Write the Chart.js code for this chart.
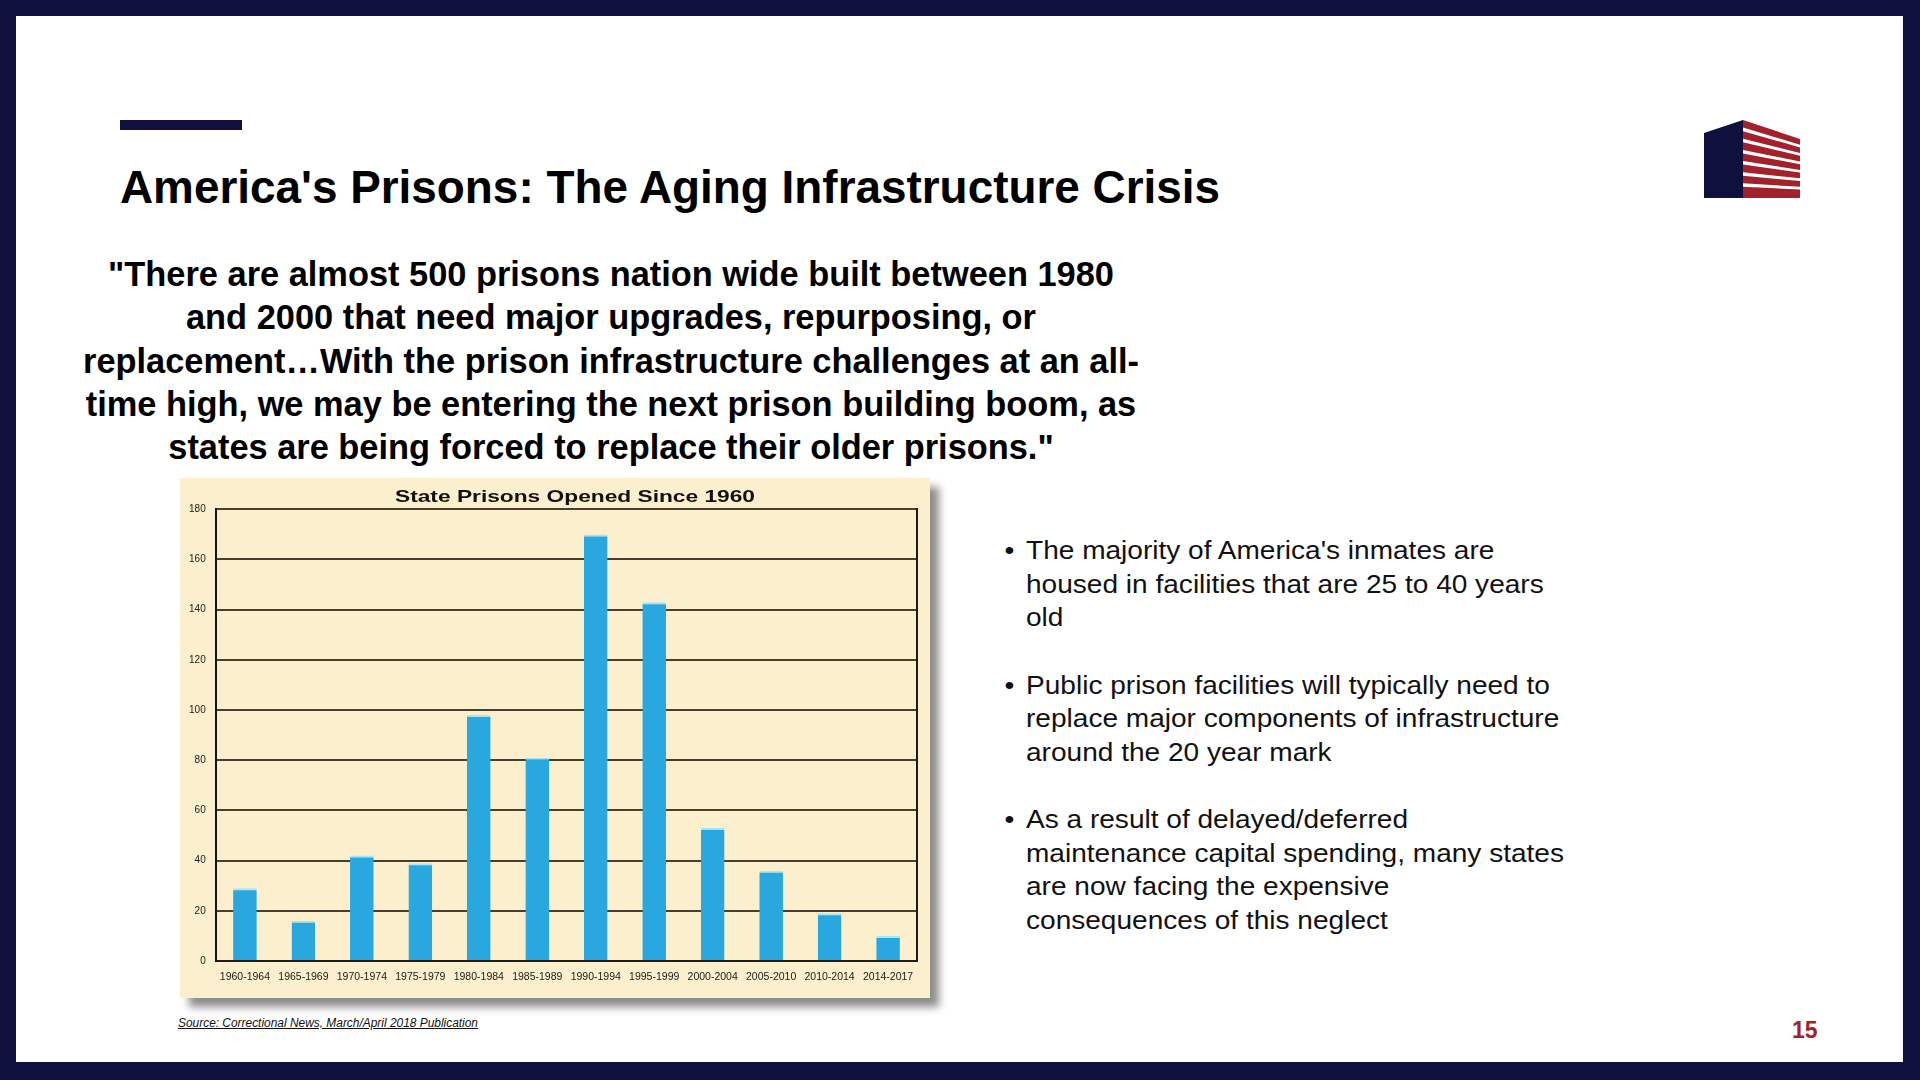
<!DOCTYPE html>
<html lang="en-US">
<head>
  <meta charset="utf-8">
  <title>America's Prisons: The Aging Infrastructure Crisis</title>
  <script src="https://cdn.jsdelivr.net/npm/chart.js@4.4.1/dist/chart.umd.min.js"></script>
  <style>
  html, body {
    margin: 0;
    width: 1920px;
    height: 1080px;
    overflow: hidden;
    background: #10103f;
    font-family: "Liberation Sans", Arial, sans-serif;
  }
  .abs { position: absolute; }
  #slide { left: 16px; top: 16px; right: 17px; bottom: 18px; background: #fff; }
  #accent { left: 120px; top: 120px; width: 122px; height: 10px; background: #10103f; }
  #title {
    left: 120px; top: 164px; font-size: 46px; line-height: 46px; font-weight: bold;
    color: #000; white-space: nowrap; transform-origin: 0 0;
  }
  #quote {
    left: 0; top: 252px; width: 1222px; text-align: center; font-size: 35px;
    line-height: 43.3px; font-weight: bold; color: #000; transform-origin: 611px 0;
  }
  #quote div { white-space: nowrap; }
  #bullets {
    left: 1026px; top: 534px; width: 700px; font-size: 26px; line-height: 33.5px;
    color: #111; transform-origin: 0 0;
  }
  #bullets p { margin: 0 0 34px 0; position: relative; white-space: nowrap; }
  #bullets p::before { content: "\2022"; position: absolute; left: -20px; }
  #panel {
    left: 180px; top: 478px; width: 750px; height: 520px; background: #fbefcd;
    box-shadow: 9px 9px 8px rgba(0, 0, 0, 0.45);
  }
  #source {
    left: 178px; top: 1016px; font-size: 12px; font-style: italic;
    text-decoration: underline; color: #111; white-space: nowrap;
  }
  #page {
    left: 1792px; top: 1017px; font-size: 23px; font-weight: bold; color: #a3212a;
  }
  </style>
</head>

<body>
  <div id="slide" class="abs"></div>
  <div id="accent" class="abs"></div>
  <svg class="abs" style="left:1704px;top:120px" width="96" height="78" viewBox="0 0 96 78">
    <polygon points="0,13 39,0 39,78 0,78" fill="#10103f"/>
    <g id="stripes" fill="#a3212a"></g>
  </svg>
  <div id="title" class="abs"><span>America's Prisons: The Aging Infrastructure Crisis</span></div>
  <div id="quote" class="abs">
    <div>"There are almost 500 prisons nation wide built between 1980</div>
    <div>and 2000 that need major upgrades, repurposing, or</div>
    <div><span id="qwide">replacement…With the prison infrastructure challenges at an all-</span></div>
    <div>time high, we may be entering the next prison building boom, as</div>
    <div>states are being forced to replace their older prisons."</div>
  </div>
  <div id="bullets" class="abs">
    <p>The majority of America's inmates are<br>housed in facilities that are 25 to 40 years<br>old</p>
    <p>Public prison facilities will typically need to<br>replace major components of infrastructure<br>around the 20 year mark</p>
    <p>As a result of delayed/deferred<br><span id="bwide">maintenance capital spending, many states</span><br>are now facing the expensive<br>consequences of this neglect</p>
  </div>
  <div id="panel" class="abs">
    <canvas id="chart" width="750" height="520"></canvas>
  </div>
  <div id="source" class="abs"><span id="srcText">Source: Correctional News, March/April 2018 Publication</span></div>
  <div id="page" class="abs">15</div>

  <script>
    var periods = ['1960-1964', '1965-1969', '1970-1974', '1975-1979', '1980-1984', '1985-1989',
      '1990-1994', '1995-1999', '2000-2004', '2005-2010', '2010-2014', '2014-2017'];
    var prisonsOpened = [29, 16, 42, 39, 98, 81, 170, 143, 53, 36, 19, 10];
    var yMin = 0;
    var yMax = 180;
    var yStep = 20;
    var chartTitle = 'State Prisons Opened Since 1960';

    // logo stripes
    var g = document.getElementById('stripes');
    for (var i = 0; i < 7; i++) {
      var l0 = i * 11.14, l1 = i === 6 ? 78 : l0 + 7.6;
      var r0 = 19 + i * 8.4, r1 = i === 6 ? 78 : r0 + 5.7;
      var p = document.createElementNS('http://www.w3.org/2000/svg', 'polygon');
      p.setAttribute('points', '39,' + l0 + ' 96,' + r0 + ' 96,' + r1 + ' 39,' + l1);
      g.appendChild(p);
    }

    // squeeze slide text to the widths in the original deck
    function squeeze(box, ref, target) {
      var w = ref.getBoundingClientRect().width;
      box.style.transform = 'scaleX(' + (target / w) + ')';
    }
    squeeze(document.getElementById('title'), document.querySelector('#title span'), 1100);
    squeeze(document.getElementById('quote'), document.getElementById('qwide'), 1056);
    squeeze(document.getElementById('bullets'), document.getElementById('bwide'), 538);
    document.getElementById('source').style.transformOrigin = '0 0';
    squeeze(document.getElementById('source'), document.getElementById('srcText'), 300);

    var panelTitle = {
      id: 'panelTitle',
      afterDraw: function (chart) {
        var ctx = chart.ctx;
        ctx.save();
        ctx.font = 'bold 17px "Liberation Sans", Arial, sans-serif';
        var w = ctx.measureText(chartTitle).width;
        ctx.translate(395, 19);
        ctx.scale(360 / w, 1);
        ctx.fillStyle = '#111';
        ctx.textAlign = 'center';
        ctx.textBaseline = 'middle';
        ctx.fillText(chartTitle, 0, 0);
        ctx.restore();
      }
    };

    var config = {
      type: 'bar',
      data: {
        labels: periods,
        datasets: [{
          data: prisonsOpened,
          backgroundColor: '#29a8e0',
          borderColor: '#a8e4f2',
          borderWidth: { top: 2, left: 0, right: 0, bottom: 0 },
          borderSkipped: false,
          barPercentage: 0.405,
          categoryPercentage: 1
        }]
      },
      options: {
        responsive: false,
        animation: false,
        layout: {
          padding: { top: 31.3, left: 0, right: 0, bottom: 0 }
        },
        plugins: {
          legend: { display: false },
          tooltip: { enabled: false },
          title: { display: false }
        },
        scales: {
          x: {
            grid: { display: false, drawTicks: false },
            border: { display: true, color: '#1e1c16', width: 2 },
            ticks: {
              color: '#1a1a1a',
              font: { family: '"Liberation Sans", Arial, sans-serif', size: 10.5 },
              padding: 10,
              maxRotation: 0,
              autoSkip: false
            },
            afterFit: function (scale) { scale.height = 37; }
          },
          y: {
            min: yMin,
            max: yMax,
            grid: { color: '#453f2c', lineWidth: 2, drawTicks: false },
            border: { display: true, color: '#111', width: 2 },
            ticks: {
              stepSize: yStep,
              color: '#1a1a1a',
              font: { family: '"Liberation Sans", Arial, sans-serif', size: 10 },
              padding: 10
            },
            afterFit: function (scale) { scale.width = 35.7; }
          },
          y2: {
            position: 'right',
            min: yMin,
            max: yMax,
            grid: { display: false, drawTicks: false },
            border: { display: true, color: '#1e1c16', width: 2 },
            ticks: { display: false },
            afterFit: function (scale) { scale.width = 12.7; }
          }
        }
      },
      plugins: [panelTitle]
    };

    var ctx = document.getElementById('chart').getContext('2d');
    window.prisonChart = new Chart(ctx, config);
  </script>
</body>
</html>
